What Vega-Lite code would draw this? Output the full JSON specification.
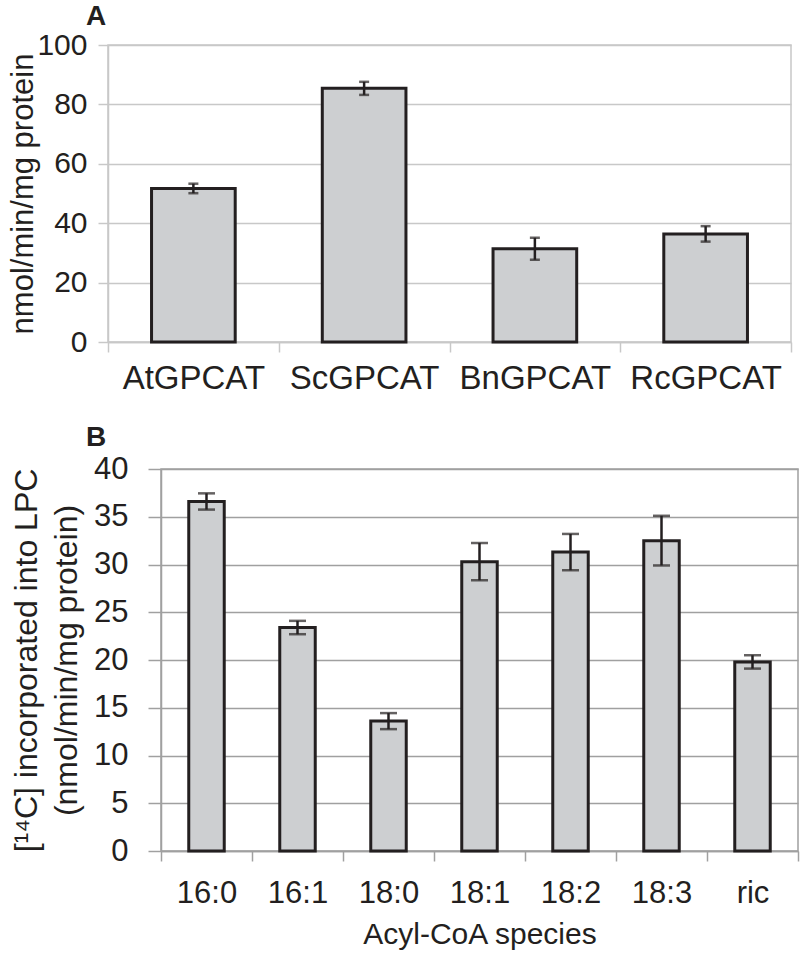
{
  "$schema": "https://vega.github.io/schema/vega-lite/v6.json",
  "background": "white",
  "padding": {"left": 0, "top": 2, "right": 3, "bottom": 0},
  "config": {
    "font": "Liberation Sans",
    "view": {"stroke": null},
    "axis": {"labelColor": "#231f20", "titleColor": "#231f20", "labelFont": "Liberation Sans", "titleFont": "Liberation Sans", "titleFontWeight": "normal"},
    "title": {"font": "Liberation Sans", "color": "#231f20"}
  },
  "spacing": 27,
  "vconcat": [
    {
      "spacing": 0,
      "hconcat": [
        {
          "width": 1,
          "height": 1,
          "view": {"stroke": null},
          "data": {"values": [{"spacer": 1}]},
          "mark": {"type": "point", "opacity": 0},
          "encoding": {}
        },
        {
          "title": {"text": "A", "anchor": "start", "frame": "group", "dx": -22, "fontSize": 28, "fontWeight": "bold", "offset": -1},
          "width": 683,
          "height": 297,
          "view": {"stroke": "#c8c8c8", "strokeWidth": 1.5},
          "data": {"values": [
            {"enzyme": "AtGPCAT", "activity": 51.7, "err": 1.6},
            {"enzyme": "ScGPCAT", "activity": 85.4, "err": 2.2},
            {"enzyme": "BnGPCAT", "activity": 31.4, "err": 3.7},
            {"enzyme": "RcGPCAT", "activity": 36.4, "err": 2.6}
          ]},
          "encoding": {
            "x": {"field": "enzyme", "type": "nominal", "sort": null,
              "scale": {"paddingInner": 0, "paddingOuter": 0},
              "axis": {"title": null, "tickBand": "extent", "labelAngle": 0, "labelFontSize": 33, "labelPadding": 10, "tickSize": 10, "tickColor": "#c8c8c8", "tickWidth": 1.5, "domainColor": "#c8c8c8", "domainWidth": 1.5}},
            "y": {"field": "activity", "type": "quantitative",
              "scale": {"domain": [0, 100]},
              "axis": {"title": "nmol/min/mg protein", "titleFontSize": 31, "titlePadding": -3, "values": [0, 20, 40, 60, 80, 100], "labelFontSize": 30, "labelPadding": 11, "tickSize": 10, "tickColor": "#c8c8c8", "tickWidth": 1.5, "gridColor": "#c8c8c8", "gridWidth": 1.5, "domainColor": "#c8c8c8", "domainWidth": 1.5}}
          },
          "layer": [
            {
              "mark": {"type": "bar", "fill": "#cdcfd1", "stroke": "#231f20", "strokeWidth": 3, "width": {"band": 0.49}}
            },
            {
              "mark": {"type": "errorbar", "color": "#231f20", "thickness": 2.5, "ticks": {"size": 10, "thickness": 2.5, "color": "#231f20"}},
              "encoding": {
                "yError": {"field": "err"}
              }
            }
          ]
        }
      ]
    },
    {
      "spacing": 0,
      "hconcat": [
        {
          "width": 5,
          "height": 1,
          "view": {"stroke": null},
          "data": {"values": [{"spacer": 1}]},
          "mark": {"type": "point", "opacity": 0},
          "encoding": {}
        },
        {
          "title": {"text": "B", "anchor": "start", "frame": "group", "dx": -75, "fontSize": 28, "fontWeight": "bold", "offset": 1},
          "width": 637,
          "height": 382,
          "view": {"stroke": "#a0a0a0", "strokeWidth": 1.5},
          "data": {"values": [
            {"species": "16:0", "rate": 36.6, "err": 0.85},
            {"species": "16:1", "rate": 23.4, "err": 0.7},
            {"species": "18:0", "rate": 13.6, "err": 0.84},
            {"species": "18:1", "rate": 30.3, "err": 1.95},
            {"species": "18:2", "rate": 31.3, "err": 1.9},
            {"species": "18:3", "rate": 32.5, "err": 2.6},
            {"species": "ric", "rate": 19.8, "err": 0.7}
          ]},
          "encoding": {
            "x": {"field": "species", "type": "nominal", "sort": null,
              "scale": {"paddingInner": 0, "paddingOuter": 0},
              "axis": {"title": "Acyl-CoA species", "titleFontSize": 30, "titlePadding": 11, "tickBand": "extent", "labelAngle": 0, "labelFontSize": 31, "labelPadding": 17, "tickSize": 10, "tickColor": "#a0a0a0", "tickWidth": 1.5, "domainColor": "#a0a0a0", "domainWidth": 1.5}},
            "y": {"field": "rate", "type": "quantitative",
              "scale": {"domain": [0, 40]},
              "axis": {"title": ["[¹⁴C] incorporated into LPC", "(nmol/min/mg protein)"], "titleFontSize": 32, "titleLineHeight": 40, "titlePadding": 10, "values": [0, 5, 10, 15, 20, 25, 30, 35, 40], "labelFontSize": 31, "labelPadding": 20, "tickSize": 13, "tickColor": "#a0a0a0", "tickWidth": 1.5, "gridColor": "#a0a0a0", "gridWidth": 1.5, "domainColor": "#a0a0a0", "domainWidth": 1.5}}
          },
          "layer": [
            {
              "mark": {"type": "bar", "fill": "#cdcfd1", "stroke": "#231f20", "strokeWidth": 3, "width": {"band": 0.39}}
            },
            {
              "mark": {"type": "errorbar", "color": "#231f20", "thickness": 2.5, "ticks": {"size": 17, "thickness": 2.5, "color": "#231f20"}},
              "encoding": {
                "yError": {"field": "err"}
              }
            }
          ]
        }
      ]
    }
  ]
}
